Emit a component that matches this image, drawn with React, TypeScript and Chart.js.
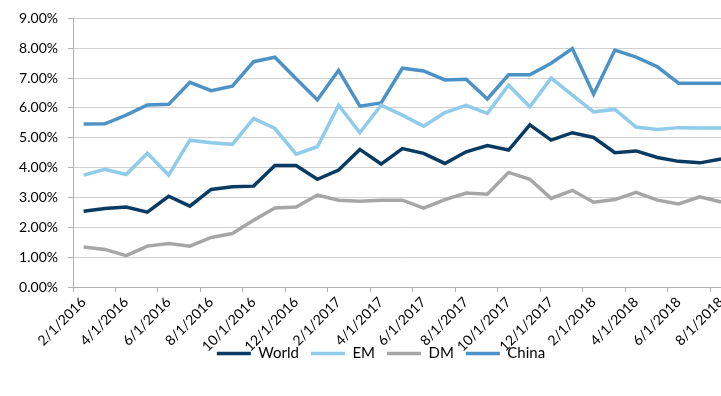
import React, { useEffect, useRef } from "react";
import { Chart, registerables } from "chart.js";

Chart.register(...registerables);

const months: string[] = [
  "2/1/2016", "3/1/2016", "4/1/2016", "5/1/2016", "6/1/2016", "7/1/2016", "8/1/2016", "9/1/2016",
  "10/1/2016", "11/1/2016", "12/1/2016", "1/1/2017", "2/1/2017", "3/1/2017", "4/1/2017", "5/1/2017",
  "6/1/2017", "7/1/2017", "8/1/2017", "9/1/2017", "10/1/2017", "11/1/2017", "12/1/2017", "1/1/2018",
  "2/1/2018", "3/1/2018", "4/1/2018", "5/1/2018", "6/1/2018", "7/1/2018", "8/1/2018",
];

const world: number[] = [
  2.54, 2.63, 2.68, 2.51, 3.04, 2.71, 3.27, 3.36, 3.38, 4.07, 4.07, 3.61, 3.92, 4.61, 4.12, 4.64,
  4.48, 4.14, 4.53, 4.74, 4.59, 5.43, 4.92, 5.17, 5.01, 4.50, 4.56, 4.34, 4.21, 4.16, 4.29,
];
const em: number[] = [
  3.75, 3.94, 3.77, 4.48, 3.75, 4.92, 4.83, 4.78, 5.65, 5.31, 4.45, 4.70, 6.09, 5.17, 6.09, 5.76,
  5.39, 5.84, 6.09, 5.82, 6.76, 6.04, 7.00, 6.43, 5.87, 5.95, 5.36, 5.28, 5.34, 5.33, 5.33,
];
const dm: number[] = [
  1.34, 1.26, 1.05, 1.37, 1.46, 1.37, 1.66, 1.79, 2.24, 2.65, 2.68, 3.08, 2.91, 2.87, 2.91, 2.91,
  2.64, 2.93, 3.15, 3.11, 3.84, 3.61, 2.97, 3.24, 2.84, 2.93, 3.17, 2.91, 2.78, 3.02, 2.85,
];
const china: number[] = [
  5.46, 5.47, 5.76, 6.10, 6.12, 6.86, 6.58, 6.73, 7.55, 7.70, 6.98, 6.27, 7.26, 6.06, 6.17, 7.33,
  7.24, 6.94, 6.96, 6.30, 7.11, 7.11, 7.50, 7.99, 6.46, 7.94, 7.70, 7.38, 6.83, 6.83, 6.83,
];

const seriesNames: string[] = ["World", "EM", "DM", "China"];
const seriesColors: string[] = ["#073B63", "#8FCBEA", "#A6A6A6", "#4D92C6"];

const FONT = "Lato, 'Liberation Sans', sans-serif";

const layoutTweaks = {
  id: "layoutTweaks",
  afterLayout(chart: any) {
    const x = chart.scales.x;
    if (x) x.bottom = chart.height;
    const lg = chart.legend;
    if (lg) {
      lg.left += 14;
      lg.right += 14;
    }
  },
};

export default function App() {
  const ref = useRef<HTMLCanvasElement | null>(null);

  useEffect(() => {
    if (!ref.current) return;
    const seriesData = [world, em, dm, china];
    const chart = new Chart(ref.current, {
      type: "line",
      data: {
        labels: months,
        datasets: seriesNames.map((name, i) => ({
          label: name,
          data: seriesData[i],
          borderColor: seriesColors[i],
          backgroundColor: seriesColors[i],
          borderWidth: 3.5,
          pointRadius: 0,
          pointHoverRadius: 0,
          tension: 0,
          fill: false,
        })),
      },
      plugins: [layoutTweaks],
      options: {
        responsive: false,
        animation: false,
        layout: { padding: { left: 0, right: 1, top: 18, bottom: 25 } },
        plugins: {
          tooltip: { enabled: false },
          legend: {
            position: "bottom",
            labels: {
              usePointStyle: true,
              pointStyle: "line",
              pointStyleWidth: 34,
              padding: 12,
              color: "#000",
              font: { family: FONT, size: 15 },
            },
          },
        },
        scales: {
          x: {
            offset: true,
            grid: {
              offset: true,
              drawOnChartArea: false,
              drawTicks: true,
              tickLength: 5,
              tickColor: (ctx: any) => (ctx.index % 2 === 0 ? "#B0B0B0" : "rgba(0,0,0,0)"),
            },
            border: { color: "#B0B0B0", width: 1 },
            ticks: {
              autoSkip: false,
              minRotation: 45,
              maxRotation: 45,
              padding: 2,
              color: "#000",
              font: { family: FONT, size: 14 },
              callback: (_v: any, i: number) => (i % 2 === 0 ? months[i] : ""),
            },
            afterFit: (scale: any) => {
              scale.height = 47;
            },
          },
          y: {
            min: 0,
            max: 9,
            grid: {
              color: "#D0D0D0",
              lineWidth: 1,
              tickLength: 5,
              tickColor: "#B0B0B0",
            },
            border: { color: "#B0B0B0", width: 1 },
            ticks: {
              stepSize: 1,
              padding: 10,
              color: "#000",
              font: { family: FONT, size: 14 },
              callback: (v: any) => Number(v).toFixed(2) + "%",
            },
            afterFit: (scale: any) => {
              scale.width = 73;
            },
          },
        },
      },
    });
    return () => chart.destroy();
  }, []);

  return (
    <div
      style={{
        position: "fixed",
        left: 0,
        top: 0,
        width: 721,
        height: 396,
        overflow: "hidden",
        background: "#fff",
      }}
    >
      <canvas ref={ref} width={735} height={396} style={{ display: "block" }} />
    </div>
  );
}
